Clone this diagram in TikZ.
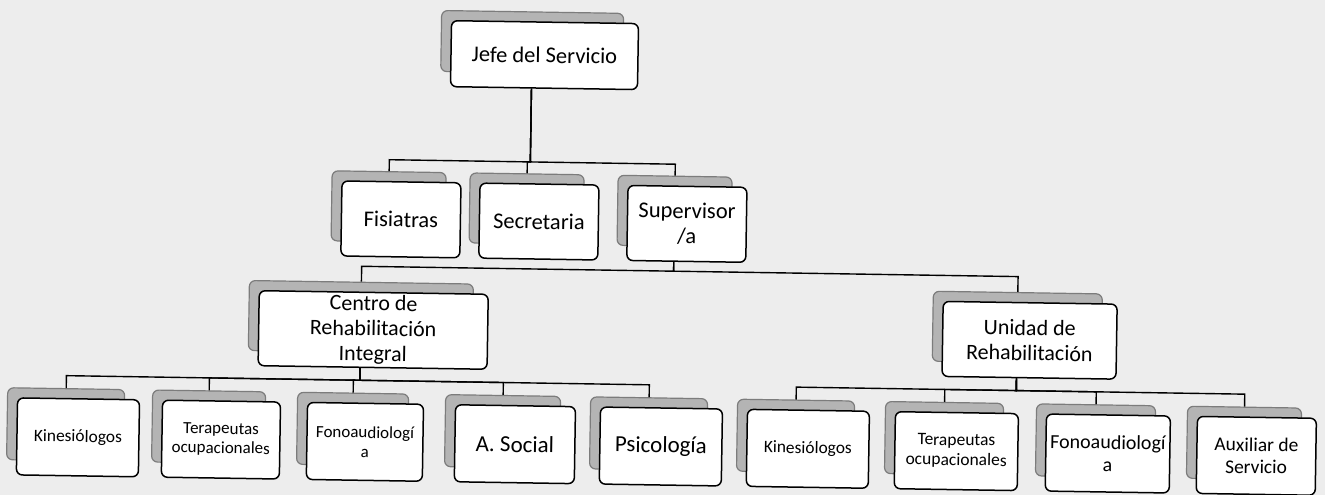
\documentclass[tikz,border=0pt]{standalone}
\usepackage{fontspec}
\setmainfont{Carlito}
\definecolor{paperc}{HTML}{EDEDED}
\definecolor{shadowc}{HTML}{B4B4B4}
\definecolor{shadowd}{HTML}{7C7C7C}
\tikzset{
  frontbox/.style={draw=black, line width=1.5pt, fill=white, rounded corners=6pt, inner sep=0pt, align=center},
  shadowbox/.style={draw=shadowd, line width=1.2pt, fill=shadowc, rounded corners=6pt, inner sep=0pt},
  wire/.style={draw=black, line width=1.4pt},
}
% name, left, top, right, bottom, font size, text
\newcommand\obox[7]{%
  \pgfmathsetmacro\bw{#4-#2}\pgfmathsetmacro\bh{#5-#3}%
  \pgfmathsetmacro\cx{(#2+#4)/2}\pgfmathsetmacro\cy{(#3+#5)/2}%
  \pgfmathsetmacro\lead{1.14*#6}%
  \node[shadowbox, minimum width=\bw pt-5pt, minimum height=\bh pt-5pt] (#1-s) at (\cx-12.5,\cy-12.5) {};
  \node[frontbox, minimum width=\bw pt, minimum height=\bh pt, font={\fontsize{#6}{\lead}\selectfont}] (#1) at (\cx,\cy) {#7};
}
% parent, child, bus y
\newcommand\wire[3]{%
  \draw[wire] (#1-s.center |- #1.south) -- (#1-s.center |- 0,#3) -| (#2-s.north);
}
\begin{document}
\begin{tikzpicture}[x=1pt,y=-1pt]
\fill[paperc] (0,0) rectangle (1325,495);
\useasboundingbox (0,0) rectangle (1325,495);
\begin{scope}[transform canvas={rotate around={-0.9:(662,247)}}]
\obox{jefe}{448}{24}{635}{90}{22.5}{Jefe del Servicio}
\obox{fis}{341}{186}{460}{261}{22.5}{Fisiatras}
\obox{sec}{479}{186}{598}{261}{22.5}{Secretaria}
\obox{sup}{627}{186}{746}{261}{22.5}{Supervisor\\/a}
\obox{cri}{260}{297}{489}{372}{22}{Centro de\\Rehabilitación\\Integral}
\obox{uni}{944}{297}{1118}{372}{22}{Unidad de\\Rehabilitación}
\obox{kA}{20}{408}{142}{485}{17.4}{Kinesiólogos}
\obox{tA}{165}{408}{283}{485}{17}{Terapeutas\\ocupacionales}
\obox{fA}{310}{408}{426}{485}{17}{Fonoaudiologí\\a}
\obox{as}{458}{408}{578}{485}{23}{A. Social}
\obox{ps}{603}{408}{725}{485}{23}{Psicología}
\obox{kB}{750}{408}{872}{485}{17.4}{Kinesiólogos}
\obox{tB}{898}{408}{1021}{485}{17.5}{Terapeutas\\ocupacionales}
\obox{fB}{1049}{408}{1173}{485}{20}{Fonoaudiologí\\a}
\obox{ax}{1200}{408}{1319}{485}{19.5}{Auxiliar de\\Servicio}
\wire{jefe}{fis}{164}
\wire{jefe}{sec}{164}
\wire{jefe}{sup}{164}
\wire{sup}{cri}{271}
\wire{sup}{uni}{271}
\wire{cri}{kA}{385}
\wire{cri}{tA}{385}
\wire{cri}{fA}{385}
\wire{cri}{as}{385}
\wire{cri}{ps}{385}
\wire{uni}{kB}{385}
\wire{uni}{tB}{385}
\wire{uni}{fB}{385}
\wire{uni}{ax}{385}
\end{scope}
\end{tikzpicture}
\end{document}
